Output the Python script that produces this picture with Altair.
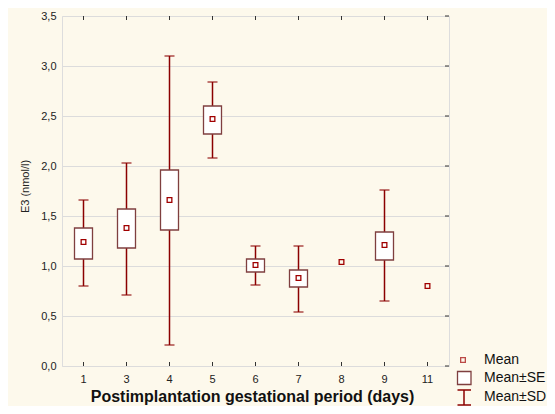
import altair as alt
import pandas as pd

days = ["1", "3", "4", "5", "6", "7", "8", "9", "11"]
mean = [1.24, 1.38, 1.66, 2.47, 1.01, 0.88, 1.04, 1.21, 0.80]
se_low = [1.07, 1.18, 1.36, 2.32, 0.94, 0.79, None, 1.06, None]
se_high = [1.38, 1.57, 1.96, 2.60, 1.07, 0.96, None, 1.34, None]
sd_low = [0.80, 0.71, 0.21, 2.08, 0.81, 0.54, None, 0.65, None]
sd_high = [1.66, 2.03, 3.10, 2.84, 1.20, 1.20, None, 1.76, None]
y_ticks = [0.0, 0.5, 1.0, 1.5, 2.0, 2.5, 3.0, 3.5]
legend_labels = ["Mean", "Mean±SE", "Mean±SD"]

df = pd.DataFrame({"day": days, "mean": mean, "se_low": se_low, "se_high": se_high,
                   "sd_low": sd_low, "sd_high": sd_high})
df_err = df.dropna()
df_ticks = pd.DataFrame({"v": y_ticks})
df_days = pd.DataFrame({"day": days})
one = pd.DataFrame({"k": [0]})

W, H = 387, 350
RED = "#8B0000"
BOXC = "#7F3F3F"
FONT = "Liberation Sans"

xs = alt.X("day:N", sort=days,
           scale=alt.Scale(domain=days, paddingInner=0, paddingOuter=0),
           axis=alt.Axis(title="Postimplantation gestational period  (days)", labelAngle=0,
                         labelFontSize=11, labelColor="#222", labelPadding=7,
                         ticks=False, domain=False,
                         titleFontSize=16, titleFontWeight="bold", titleColor="#111",
                         titleBaseline="middle", titleY=30, titleX=190))
ys_scale = alt.Scale(domain=[0, 3.5], nice=False, zero=False)

rules = alt.Chart(df_err).mark_rule(color=RED, strokeWidth=1.5).encode(
    x=xs,
    y=alt.Y("sd_low:Q", scale=ys_scale,
            axis=alt.Axis(title="E3 (nmol/l)", values=y_ticks,
                          labelExpr="replace(format(datum.value, '.1f'), '.', ',')",
                          labelFontSize=11, labelColor="#222", labelPadding=6,
                          ticks=False, domain=False,
                          grid=True, gridColor="#DCDCDC", gridWidth=1,
                          titleFontSize=11, titleFontWeight="normal", titleColor="#222",
                          titleAngle=-90, titleAlign="center", titleBaseline="middle",
                          titleX=-37, titleY=170)),
    y2="sd_high:Q")

cap_hi = alt.Chart(df_err).mark_tick(color=RED, size=10, thickness=1.5).encode(
    x=alt.X("day:N", sort=days), y=alt.Y("sd_high:Q"))
cap_lo = alt.Chart(df_err).mark_tick(color=RED, size=10, thickness=1.5).encode(
    x=alt.X("day:N", sort=days), y=alt.Y("sd_low:Q"))

boxes = alt.Chart(df_err).mark_bar(size=18, fill="white", stroke=BOXC, strokeWidth=1.3).encode(
    x=alt.X("day:N", sort=days), y=alt.Y("se_low:Q"), y2="se_high:Q")

means = alt.Chart(df).mark_point(shape="square", filled=False, size=22, color="#A00000",
                                  strokeWidth=1.3, opacity=1).encode(
    x=alt.X("day:N", sort=days), y=alt.Y("mean:Q"))

# inward ticks on top / bottom / right frame
top_ticks = alt.Chart(df_days).mark_rule(color="#333", strokeWidth=1).encode(
    x=alt.X("day:N", sort=days), y=alt.value(0), y2=alt.value(4))
bot_ticks = alt.Chart(df_days).mark_rule(color="#333", strokeWidth=1).encode(
    x=alt.X("day:N", sort=days), y=alt.value(H), y2=alt.value(H - 4))
right_ticks = alt.Chart(df_ticks).mark_rule(color="#333", strokeWidth=1).encode(
    y=alt.Y("v:Q"), x=alt.value(W), x2=alt.value(W - 4))

# legend
leg_mean = alt.Chart(one).mark_point(shape="square", filled=False, size=22,
                                     color="#A00000", strokeWidth=1.3).encode(
    x=alt.value(401), y=alt.value(344))
leg_box = alt.Chart(one).mark_rect(fill="white", stroke=BOXC, strokeWidth=1.3).encode(
    x=alt.value(395.5), x2=alt.value(409), y=alt.value(355.5), y2=alt.value(368.5))
leg_sd = alt.Chart(one).mark_rule(color=RED, strokeWidth=1.5).encode(
    x=alt.value(402), y=alt.value(374), y2=alt.value(389))
leg_sd_t = alt.Chart(one).mark_rule(color=RED, strokeWidth=1.5).encode(
    x=alt.value(395.5), x2=alt.value(409), y=alt.value(374))
leg_sd_b = alt.Chart(one).mark_rule(color=RED, strokeWidth=1.5).encode(
    x=alt.value(395.5), x2=alt.value(409), y=alt.value(389))
leg_y = [344, 362, 381]
leg_texts = [
    alt.Chart(one).mark_text(align="left", baseline="middle", fontSize=14, font=FONT,
                             color="#111", text=lab).encode(
        x=alt.value(422), y=alt.value(yy))
    for lab, yy in zip(legend_labels, leg_y)
]

chart = alt.layer(rules, cap_hi, cap_lo, boxes, means, top_ticks, bot_ticks, right_ticks,
                  leg_mean, leg_box, leg_sd, leg_sd_t, leg_sd_b, *leg_texts).properties(
    width=W, height=H,
    autosize=alt.AutoSizeParams(type="none"),
    padding={"left": 54, "top": 8, "right": 98, "bottom": 40},
    background="#FDF9EC",
).configure_view(fill="white", stroke="#2a2a2a", strokeWidth=2).configure(
    font=FONT)

chart.save("out.html", embed_options={"renderer": "svg", "actions": False})
